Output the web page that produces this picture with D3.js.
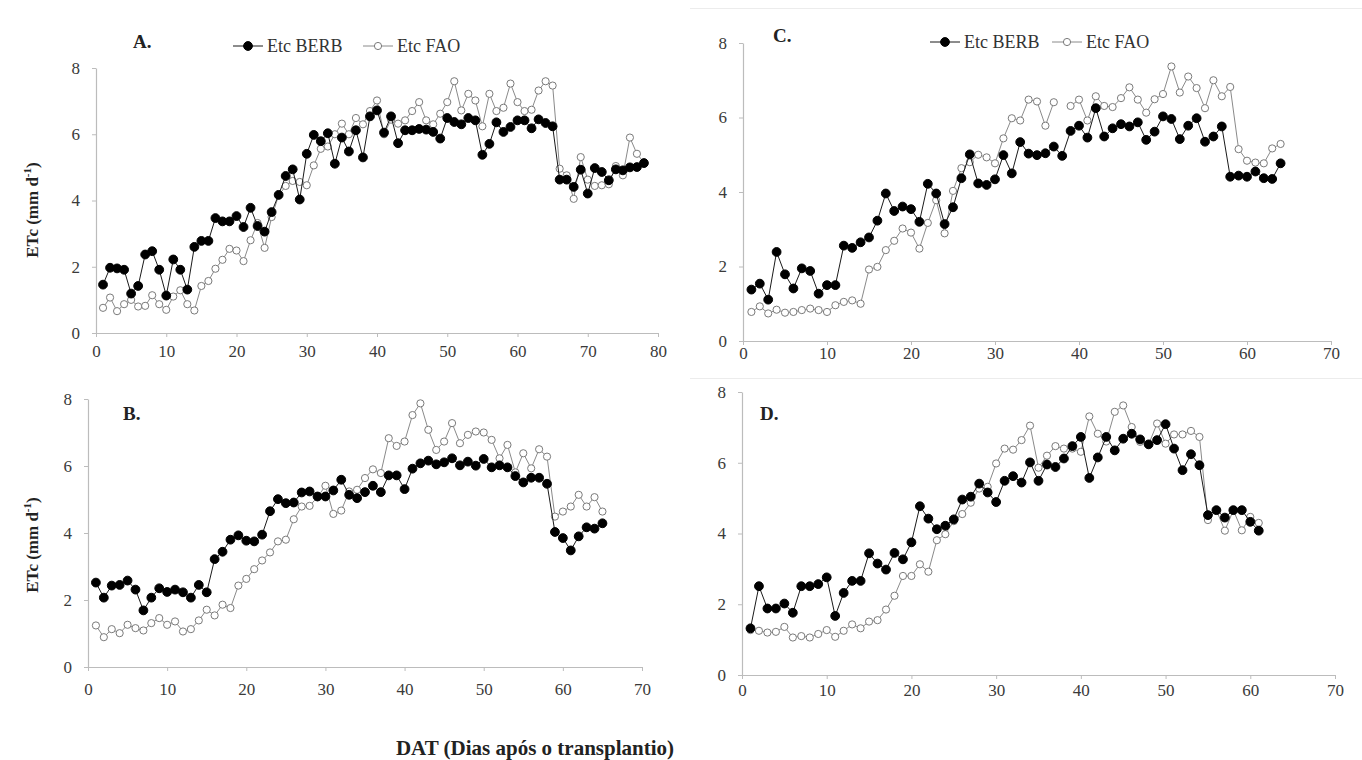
<!DOCTYPE html>
<html><head><meta charset="utf-8">
<script src="https://cdn.jsdelivr.net/npm/d3@7"></script>
<style>
body{margin:0;background:#fff}
svg text{font-family:"Liberation Serif","Times New Roman",serif}
</style>
</head><body>
<svg id="chart" width="1362" height="760"></svg>
<script>
// ---- data (ETc, mm/d, one value per day after transplanting, starting at day 1) ----
const berbA=[1.46,1.97,1.95,1.91,1.19,1.42,2.37,2.47,1.91,1.13,
2.22,1.91,1.31,2.60,2.78,2.78,3.47,3.37,3.37,3.53,
3.20,3.78,3.23,3.06,3.65,4.17,4.74,4.94,4.03,5.41,
5.98,5.79,6.03,5.11,5.90,5.48,6.12,5.30,6.54,6.72,
6.05,6.54,5.73,6.12,6.12,6.16,6.14,6.07,5.87,6.49,
6.37,6.30,6.49,6.42,5.38,5.71,6.36,6.07,6.22,6.42,
6.42,6.18,6.45,6.34,6.24,4.63,4.63,4.41,4.93,4.21,
4.98,4.86,4.61,4.94,4.91,5.00,5.01,5.13];
const faoA=[0.76,1.07,0.66,0.87,1.00,0.80,0.82,1.14,0.87,0.70,
1.10,1.29,0.87,0.68,1.42,1.57,1.94,2.21,2.54,2.49,
2.17,2.80,3.32,2.57,3.50,4.15,4.44,4.59,4.56,4.46,
5.06,5.56,5.63,6.00,6.32,6.00,6.49,6.30,6.70,7.02,
6.00,6.44,6.32,6.42,6.70,6.97,6.42,6.30,6.62,6.97,
7.60,6.72,7.22,7.02,6.24,7.22,6.70,6.80,7.53,6.97,
6.70,6.74,7.32,7.60,7.47,4.96,4.76,4.05,5.31,4.63,
4.44,4.46,4.49,5.04,4.76,5.90,5.41,5.15];
const berbB=[2.52,2.07,2.43,2.45,2.58,2.31,1.69,2.07,2.35,2.24,
2.31,2.23,2.07,2.45,2.23,3.22,3.44,3.80,3.93,3.77,
3.75,3.95,4.65,5.01,4.89,4.91,5.21,5.24,5.09,5.09,
5.27,5.59,5.14,5.04,5.22,5.41,5.22,5.72,5.72,5.31,
5.92,6.08,6.16,6.05,6.11,6.23,6.02,6.13,6.01,6.21,
5.96,6.02,5.96,5.70,5.51,5.65,5.65,5.47,4.03,3.85,
3.48,3.90,4.17,4.13,4.29];
const faoB=[1.24,0.89,1.13,1.01,1.26,1.16,1.09,1.31,1.46,1.26,
1.36,1.06,1.13,1.39,1.71,1.54,1.86,1.76,2.43,2.63,
2.92,3.18,3.42,3.75,3.80,4.41,4.79,4.81,5.07,5.41,
4.57,4.67,5.24,5.29,5.64,5.90,5.79,6.83,6.60,6.73,
7.52,7.87,7.08,6.48,6.73,7.28,6.68,6.93,7.03,7.00,
6.78,6.23,6.63,5.81,6.38,5.93,6.50,6.28,4.49,4.64,
4.79,5.14,4.79,5.07,4.64];
const berbC=[1.38,1.54,1.11,2.39,1.79,1.41,1.95,1.88,1.27,1.50,
1.50,2.56,2.50,2.65,2.78,3.23,3.96,3.49,3.61,3.54,
3.20,4.22,3.96,3.14,3.59,4.37,5.01,4.23,4.19,4.34,
4.99,4.50,5.34,5.03,4.99,5.04,5.22,4.97,5.64,5.78,
5.46,6.25,5.49,5.71,5.82,5.76,5.87,5.40,5.62,6.03,
5.96,5.42,5.78,5.98,5.35,5.49,5.76,4.41,4.44,4.41,
4.55,4.37,4.35,4.77];
const faoC=[0.78,0.93,0.74,0.84,0.76,0.78,0.83,0.87,0.83,0.78,
0.96,1.05,1.09,1.00,1.92,1.99,2.44,2.69,3.02,2.91,
2.48,3.17,3.78,2.89,4.03,4.64,4.80,5.00,4.93,4.77,
5.44,5.98,5.92,6.48,6.43,5.78,6.41,null,6.31,6.48,
5.92,6.57,6.31,6.28,6.52,6.81,6.48,6.13,6.49,6.63,
7.37,6.67,7.10,6.79,6.25,7.00,6.57,6.82,5.15,4.84,
4.79,4.77,5.17,5.29];
const berbD=[1.32,2.51,1.88,1.88,2.02,1.76,2.51,2.51,2.57,2.76,
1.67,2.32,2.66,2.66,3.44,3.15,2.98,3.45,3.27,3.75,
4.77,4.42,4.12,4.22,4.40,4.96,5.04,5.41,5.16,4.89,
5.49,5.62,5.44,6.01,5.49,5.95,5.88,6.12,6.47,6.73,
5.57,6.15,6.73,6.35,6.68,6.82,6.66,6.52,6.64,7.09,
6.40,5.79,6.24,5.93,4.52,4.66,4.45,4.66,4.66,4.33,
4.08];
const faoD=[1.27,1.25,1.20,1.22,1.36,1.06,1.10,1.06,1.16,1.27,
1.08,1.25,1.43,1.32,1.51,1.55,1.85,2.24,2.80,2.80,
3.13,2.92,3.81,3.98,4.35,4.55,4.87,5.27,5.32,5.98,
6.40,6.37,6.64,7.05,5.86,6.20,6.47,6.40,6.40,6.31,
7.31,6.82,6.60,7.44,7.62,7.01,6.59,6.52,7.11,6.54,
6.80,6.80,6.90,6.73,4.38,4.66,4.08,4.66,4.09,4.47,
4.30];

const xTicks80=[0,10,20,30,40,50,60,70,80];
const xTicks70=[0,10,20,30,40,50,60,70];
const yTicks=[0,2,4,6,8];
const seriesNames=["Etc BERB","Etc FAO"];
const panelNames=["A.","B.","C.","D."];
const yTitle="ETc  (mm d";
const yTitleSup="-1";
const xTitle="DAT (Dias após o transplantio)";

// ---- layout ----
const panels=[
 {name:panelNames[0],berb:berbA,fao:faoA,xMax:80,xTicks:xTicks80,x0:96,x1:658,y0:333,y1:68,xPad:8,lab:[133,48],legend:{y:46,b:248,f:378},yTitle:210},
 {name:panelNames[1],berb:berbB,fao:faoB,xMax:70,xTicks:xTicks70,x0:88,x1:642,y0:667,y1:399,xPad:12,lab:[123,420],yTitle:545},
 {name:panelNames[2],berb:berbC,fao:faoC,xMax:70,xTicks:xTicks70,x0:743,x1:1331,y0:341,y1:43,xPad:2,lab:[773,42],legend:{y:42,b:945,f:1067}},
 {name:panelNames[3],berb:berbD,fao:faoD,xMax:70,xTicks:xTicks70,x0:742,x1:1335,y0:675,y1:392,xPad:5,lab:[760,420]}
];

const svg=d3.select("#chart");
svg.append("rect").attr("width",1362).attr("height",760).attr("fill","#fff");
// faint frame lines of the original chart boxes
svg.append("line").attr("x1",690).attr("x2",1362).attr("y1",8.5).attr("y2",8.5).attr("stroke","#ececec");
svg.append("line").attr("x1",690).attr("x2",1362).attr("y1",378.5).attr("y2",378.5).attr("stroke","#ececec");

const axisCol="#bcbcbc", textCol="#3a3a3a";
const berbStyle={line:"#1a1a1a",fill:"#000",stroke:"#000",r:4.4};
const faoStyle={line:"#8a8a8a",fill:"#fff",stroke:"#7a7a7a",r:3.6};

panels.forEach(p=>{
  const x=d3.scaleLinear().domain([0,p.xMax]).range([p.x0,p.x1]);
  const y=d3.scaleLinear().domain([0,8]).range([p.y0,p.y1]);
  const g=svg.append("g");

  const yAx=g.append("g").attr("transform",`translate(${p.x0},0)`)
    .call(d3.axisLeft(y).tickValues(yTicks).tickSize(4).tickPadding(12).tickSizeOuter(0));
  const xAx=g.append("g").attr("transform",`translate(0,${p.y0})`)
    .call(d3.axisBottom(x).tickValues(p.xTicks).tickSize(4).tickPadding(p.xPad).tickSizeOuter(0));
  [yAx,xAx].forEach(a=>{
    a.select(".domain").attr("stroke",axisCol).attr("stroke-width",1.2);
    a.selectAll(".tick line").attr("stroke",axisCol);
    a.selectAll(".tick text").attr("fill",textCol).attr("font-size",17)
      .style("font-family","'Liberation Serif','Times New Roman',serif");
  });

  const pts=arr=>arr.map((v,i)=>({d:i+1,v:v}));
  const line=d3.line().defined(d=>d.v!=null).x(d=>x(d.d)).y(d=>y(d.v));
  [[p.fao,faoStyle],[p.berb,berbStyle]].forEach(([arr,st])=>{
    const data=pts(arr);
    g.append("path").datum(data).attr("d",line).attr("fill","none")
      .attr("stroke",st.line).attr("stroke-width",1);
    g.selectAll(null).data(data.filter(d=>d.v!=null)).enter().append("circle")
      .attr("cx",d=>x(d.d)).attr("cy",d=>y(d.v)).attr("r",st.r)
      .attr("fill",st.fill).attr("stroke",st.stroke).attr("stroke-width",1);
  });

  g.append("text").attr("x",p.lab[0]).attr("y",p.lab[1]).attr("font-size",19)
    .attr("font-weight","bold").attr("fill","#222").text(p.name);

  if(p.legend){
    const L=p.legend;
    [[L.b,berbStyle,seriesNames[0]],[L.f,faoStyle,seriesNames[1]]].forEach(([cx,st,name])=>{
      g.append("line").attr("x1",cx-15).attr("x2",cx+15).attr("y1",L.y).attr("y2",L.y)
        .attr("stroke",st.line).attr("stroke-width",1);
      g.append("circle").attr("cx",cx).attr("cy",L.y).attr("r",st.r)
        .attr("fill",st.fill).attr("stroke",st.stroke);
      g.append("text").attr("x",cx+19).attr("y",L.y+6).attr("font-size",18)
        .attr("fill","#333").text(name);
    });
  }
  if(p.yTitle){
    const t=g.append("text").attr("transform",`translate(38,${p.yTitle}) rotate(-90)`)
      .attr("text-anchor","middle").attr("font-size",17).attr("font-weight","bold").attr("fill","#222");
    t.append("tspan").text(yTitle);
    t.append("tspan").attr("font-size",11).attr("dy",-7).text(yTitleSup);
    t.append("tspan").attr("dy",7).text(")");
  }
});

svg.append("text").attr("x",535).attr("y",755).attr("text-anchor","middle")
  .attr("font-size",21).attr("font-weight","bold").attr("fill","#222").text(xTitle);
</script>
</body></html>
